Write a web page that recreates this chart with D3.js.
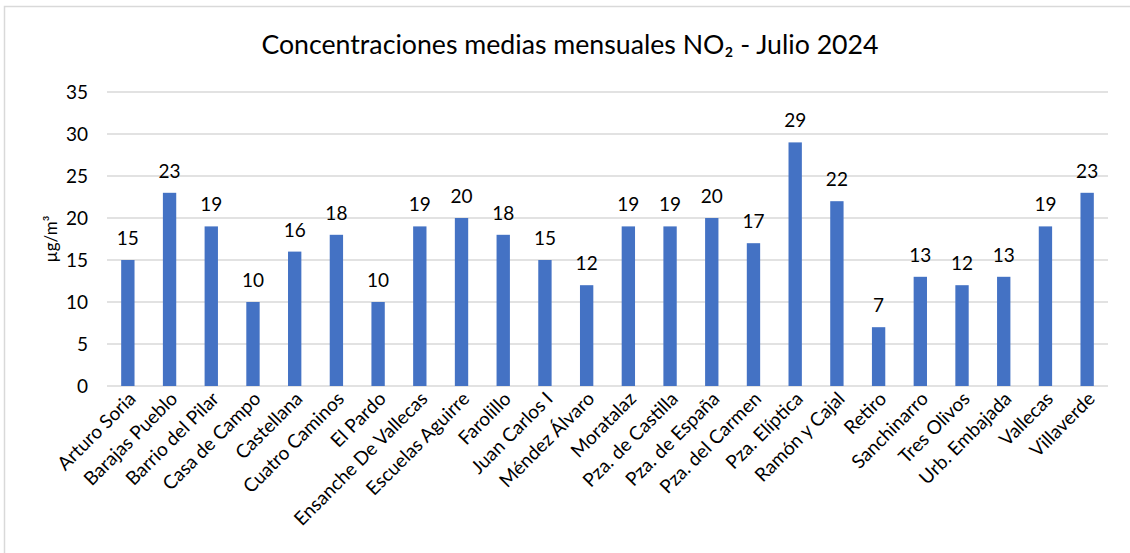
<!DOCTYPE html>
<html>
<head>
<meta charset="utf-8">
<script src="https://cdn.jsdelivr.net/npm/d3@7"></script>
<style>
  body { margin: 0; background: #fff; }
  text { font-family: Lato, "Noto Sans", sans-serif; fill: #000; }
</style>
</head>
<body>
<script>
// stations and their July 2024 NO2 monthly means
const stations = [
  'Arturo Soria', 'Barajas Pueblo', 'Barrio del Pilar', 'Casa de Campo', 'Castellana',
  'Cuatro Caminos', 'El Pardo', 'Ensanche De Vallecas', 'Escuelas Aguirre', 'Farolillo',
  'Juan Carlos I', 'Méndez Álvaro', 'Moratalaz', 'Pza. de Castilla', 'Pza. de España',
  'Pza. del Carmen', 'Pza. Elíptica', 'Ramón y Cajal', 'Retiro', 'Sanchinarro',
  'Tres Olivos', 'Urb. Embajada', 'Vallecas', 'Villaverde'
];
const no2 = [15, 23, 19, 10, 16, 18, 10, 19, 20, 18, 15, 12, 19, 19, 20, 17, 29, 22, 7, 13, 12, 13, 19, 23];
const yTicks = [0, 5, 10, 15, 20, 25, 30, 35];

const width = 1130;
const height = 553;
const margin = { top: 92, right: 22, bottom: 167, left: 107 };

const svg = d3.select('body')
  .append('svg')
  .attr('width', width)
  .attr('height', height);

// outer frame of the chart area
svg.append('rect')
  .attr('x', 4.5)
  .attr('y', 6.5)
  .attr('width', width + 10)
  .attr('height', height + 10)
  .attr('fill', 'none')
  .attr('stroke', '#d9d9d9')
  .attr('stroke-width', 1.5);

const x = d3.scaleBand()
  .domain(stations)
  .range([margin.left, width - margin.right])
  .paddingInner(0.68)
  .paddingOuter(0.34);

const y = d3.scaleLinear()
  .domain([0, 35])
  .range([height - margin.bottom, margin.top]);

// gridlines
svg.append('g')
  .selectAll('line')
  .data(yTicks)
  .enter()
  .append('line')
  .attr('x1', margin.left)
  .attr('x2', width - margin.right)
  .attr('y1', d => y(d))
  .attr('y2', d => y(d))
  .attr('stroke', '#d9d9d9')
  .attr('stroke-width', 1.3);

// y axis labels
const yAxis = d3.axisLeft(y).tickValues(yTicks).tickSize(0).tickPadding(19);
svg.append('g')
  .attr('transform', `translate(${margin.left}, 0)`)
  .call(yAxis)
  .call(g => g.select('.domain').remove())
  .selectAll('text')
  .style('font-size', '19px')
  .attr('fill', '#000');

// bars
svg.selectAll('.bar')
  .data(no2)
  .enter()
  .append('rect')
  .attr('class', 'bar')
  .attr('x', (d, i) => x(stations[i]))
  .attr('y', d => y(d))
  .attr('width', x.bandwidth())
  .attr('height', d => y(0) - y(d))
  .attr('fill', '#4472c4');

// value labels
svg.selectAll('.val')
  .data(no2)
  .enter()
  .append('text')
  .attr('class', 'val')
  .attr('x', (d, i) => x(stations[i]) + x.bandwidth() / 2)
  .attr('y', d => y(d) - 15)
  .attr('text-anchor', 'middle')
  .style('font-size', '19px')
  .text(d => d);

// x axis labels rotated
const xAxis = d3.axisBottom(x).tickSize(0).tickPadding(0);
svg.append('g')
  .attr('transform', `translate(0, ${y(0)})`)
  .call(xAxis)
  .call(g => g.select('.domain').remove())
  .selectAll('text')
  .attr('fill', '#000')
  .style('font-size', '19px')
  .attr('text-anchor', 'end')
  .attr('dy', null)
  .attr('y', 0)
  .attr('transform', 'translate(9, 14) rotate(-45)');

// y axis title
svg.append('text')
  .attr('transform', `translate(57, ${y(17.5)}) rotate(-90)`)
  .attr('text-anchor', 'middle')
  .style('font-size', '17px')
  .text('µg/m³');

// chart title
svg.append('text')
  .attr('x', 570)
  .attr('y', 54)
  .attr('text-anchor', 'middle')
  .style('font-size', '26.7px')
  .text('Concentraciones medias mensuales NO₂ - Julio 2024');
</script>
</body>
</html>
